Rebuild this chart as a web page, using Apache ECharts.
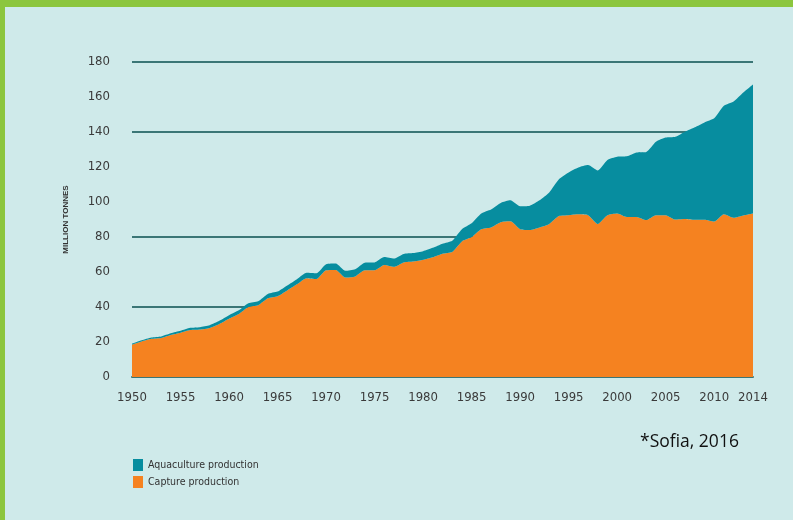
<!DOCTYPE html>
<html>
<head>
<meta charset="utf-8">
<script src="https://cdn.jsdelivr.net/npm/echarts@6/dist/echarts.min.js"></script>
<style>
html,body{margin:0;padding:0;background:#8cc63e;}
#wrap{position:absolute;left:5px;top:7px;width:788px;height:513px;background:#cfeaea;}
#chart{position:absolute;left:-5px;top:-7px;width:793px;height:520px;}
#src{position:absolute;left:635px;top:421px;font-family:"Open Sans","Liberation Sans",sans-serif;font-size:17.5px;color:#111;}
</style>
</head>
<body>
<div id="wrap"><div id="chart"></div><div id="src">*Sofia, 2016</div></div>
<script>
const years = ['1950','1951','1952','1953','1954','1955','1956','1957','1958','1959',
'1960','1961','1962','1963','1964','1965','1966','1967','1968','1969',
'1970','1971','1972','1973','1974','1975','1976','1977','1978','1979',
'1980','1981','1982','1983','1984','1985','1986','1987','1988','1989',
'1990','1991','1992','1993','1994','1995','1996','1997','1998','1999',
'2000','2001','2002','2003','2004','2005','2006','2007','2008','2009',
'2010','2011','2012','2013','2014'];

const capture = [18.5,20.3,21.8,22.3,24.0,25.3,26.8,27.1,28.0,30.3,
33.3,36.0,40.0,41.0,45.0,46.2,49.5,53.0,56.5,56.0,
61.0,61.2,56.8,57.5,61.0,61.0,64.0,63.0,65.5,66.0,
67.0,68.5,70.5,71.5,77.5,80.0,84.5,85.5,88.5,89.0,
84.5,84.0,85.5,87.5,92.0,92.5,93.0,92.5,87.5,92.5,
93.5,91.5,91.5,89.7,92.5,92.5,90.0,90.3,89.8,89.8,
88.8,93.0,91.0,92.3,93.4];

const aquaculture = [0.6,0.7,0.8,0.9,1.0,1.1,1.3,1.4,1.6,1.8,
2.0,2.1,2.2,2.3,2.5,2.6,2.8,2.9,3.1,3.3,
3.5,3.7,3.9,4.1,4.3,4.5,4.6,4.7,4.8,4.8,
4.9,5.3,5.7,6.4,7.0,7.9,9.0,10.2,11.0,12.0,
13.1,13.9,15.5,18.0,21.0,24.4,26.7,28.6,30.5,31.5,
32.4,34.6,36.8,38.9,41.9,44.3,47.3,49.9,52.9,55.7,
59.0,62.0,66.5,70.3,73.8];

const yTicks = [0,20,40,60,80,100,120,140,160,180];
const gridLineValues = [40,80,140,180];
const seriesNames = ['Aquaculture production','Capture production'];

const lineDark = '#3b7676';
const splitColors = yTicks.map(v => gridLineValues.indexOf(v) >= 0 ? lineDark : 'rgba(0,0,0,0)');
const narrow = '"DejaVu Sans Condensed","Liberation Sans Narrow","Roboto Condensed",sans-serif';

const chart = echarts.init(document.getElementById('chart'));
chart.setOption({
  backgroundColor: 'transparent',
  animation: false,
  grid: {left: 132, right: 40, top: 62, bottom: 143},
  legend: {
    orient: 'vertical',
    left: 128, top: 454,
    itemWidth: 10, itemHeight: 12, itemGap: 5,
    icon: 'rect',
    data: seriesNames,
    textStyle: {fontFamily: narrow, fontSize: 10.5, color: '#333'}
  },
  xAxis: {
    type: 'category',
    data: years,
    boundaryGap: false,
    axisLine: {show: true, lineStyle: {color: lineDark, width: 2}},
    axisTick: {show: false},
    axisLabel: {
      interval: (i, v) => (Number(v) % 5 === 0) || v === '2014',
      margin: 14,
      color: '#3a3a3a',
      fontFamily: narrow,
      fontSize: 13
    },
    splitLine: {show: false}
  },
  yAxis: {
    type: 'value',
    min: 0, max: 180, interval: 20,
    name: 'MILLION TONNES',
    nameLocation: 'middle',
    nameGap: 62,
    nameRotate: 90,
    nameTextStyle: {fontFamily: '"Liberation Sans",sans-serif', fontSize: 8, fontWeight: 'bold', color: '#333'},
    axisLine: {show: false},
    axisTick: {show: false},
    axisLabel: {
      margin: 22,
      color: '#3a3a3a',
      fontFamily: narrow,
      fontSize: 13
    },
    splitLine: {show: true, lineStyle: {color: splitColors, width: 2}}
  },
  series: [
    {
      name: 'Capture production',
      type: 'line',
      stack: 'total',
      data: capture,
      symbol: 'none',
      smooth: 0.2,
      lineStyle: {width: 0},
      itemStyle: {color: '#f58220'},
      areaStyle: {color: '#f58220', opacity: 1}
    },
    {
      name: 'Aquaculture production',
      type: 'line',
      stack: 'total',
      data: aquaculture,
      symbol: 'none',
      smooth: 0.2,
      lineStyle: {width: 0},
      itemStyle: {color: '#078d9f'},
      areaStyle: {color: '#078d9f', opacity: 1}
    }
  ]
});
</script>
</body>
</html>
